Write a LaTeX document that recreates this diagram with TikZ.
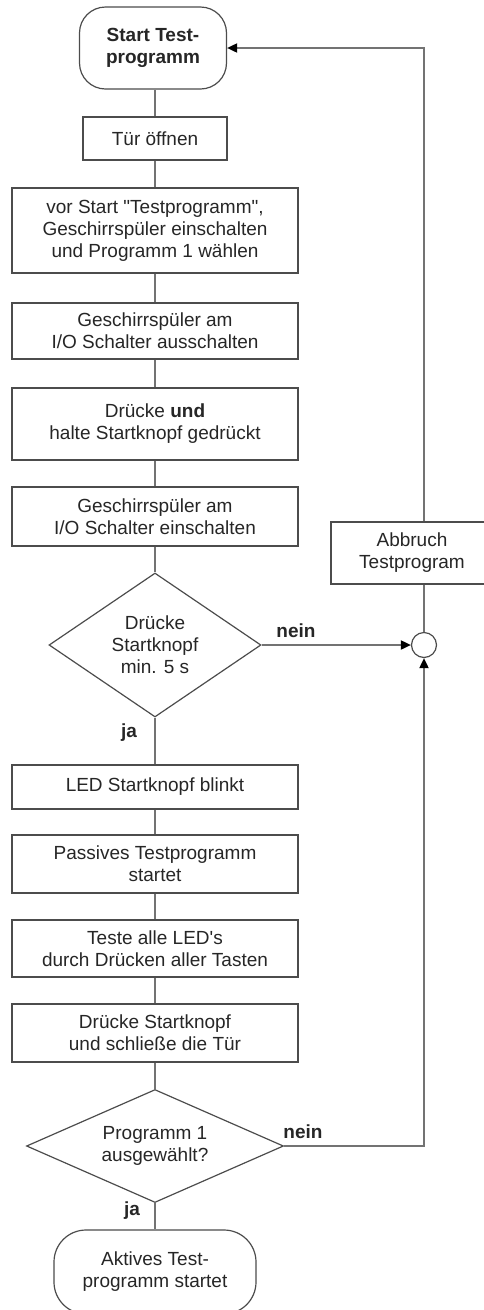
\documentclass[tikz,border=0pt]{standalone}
\usepackage{fontspec}
\setmainfont{Liberation Sans}[Ligatures=TeXOff]
\usetikzlibrary{shapes.geometric,arrows.meta}

\begin{document}
\begin{tikzpicture}[x=1pt,y=-1pt]
	\tikzstyle{every node}+=[inner sep=0pt, align=center, text=black!85, font=\fontsize{19}{22}\selectfont]
	\tikzstyle{boldtext}=[font=\fontsize{19}{22}\selectfont\bfseries]
	\tikzstyle{stepbox}=[draw=black!70, line width=1.2pt, minimum width=286pt]
	\tikzstyle{termbox}=[draw=black!70, line width=1.2pt, rounded corners=26pt]
	\tikzstyle{decbox}=[draw=black!70, line width=1.2pt, diamond]
	\tikzstyle{link}=[draw=black!55, line width=1.8pt]
	\tikzstyle{tip}=[-{Triangle[length=10pt,width=9pt,black]}]
	\useasboundingbox (0,0) rectangle (483,1310);
	\node [termbox, boldtext, minimum width=147pt, minimum height=82pt] (start) at (153,48) {Start Test-\\programm};
	\node [stepbox, minimum width=144pt, minimum height=43pt] (tuer) at (155,138.5) {Tür öffnen};
	\node [stepbox, minimum height=85pt] (vorstart) at (155,230.5) {vor Start "Testprogramm",\\Geschirrspüler einschalten\\und Programm 1 wählen};
	\node [stepbox, minimum height=56pt] (aus) at (155,331) {Geschirrspüler am\\I/O Schalter ausschalten};
	\node [stepbox, minimum height=72pt] (halten) at (155,424) {Drücke \textbf{und}\\halte Startknopf gedrückt};
	\node [stepbox, minimum height=59pt] (ein) at (155,516.5) {Geschirrspüler am\\I/O Schalter einschalten};
	\node [decbox, aspect=1.5, minimum width=212pt, minimum height=144pt] (fuenfs) at (155,645) {Drücke\\Startknopf\\min. 5 s};
	\node [stepbox, minimum height=44pt] (led) at (155,787) {LED Startknopf blinkt};
	\node [stepbox, minimum height=58pt] (passiv) at (155,864) {Passives Testprogramm\\startet};
	\node [stepbox, minimum height=57pt] (tasten) at (155,948.5) {Teste alle LED's\\durch Drücken aller Tasten};
	\node [stepbox, minimum height=58pt] (tuerzu) at (155,1033) {Drücke Startknopf\\und schließe die Tür};
	\node [decbox, aspect=2.27, minimum width=257pt, minimum height=113pt] (prog) at (155,1146) {Programm 1\\ausgewählt?};
	\node [termbox, rounded corners=32pt, minimum width=202pt, minimum height=84pt] (aktiv) at (155,1272) {Aktives Test-\\programm startet};
	\node [stepbox, minimum width=162pt, minimum height=62pt] (abbruch) at (412,553) {Abbruch\\Testprogram};
	\node [draw=black!70, line width=1.2pt, circle, minimum size=25pt] (knoten) at (424,645) {};
	\node [boldtext] (nein1) at (296,631) {nein};
	\node [boldtext] (ja1) at (129,733) {ja};
	\node [boldtext] (nein2) at (303,1132) {nein};
	\node [boldtext] (ja2) at (132,1211) {ja};
	\draw [link] (tuer.north |- start.south) -- (tuer);
	\draw [link] (tuer) -- (vorstart);
	\draw [link] (vorstart) -- (aus);
	\draw [link] (aus) -- (halten);
	\draw [link] (halten) -- (ein);
	\draw [link] (ein) -- (fuenfs);
	\draw [link] (fuenfs) -- (led);
	\draw [link] (led) -- (passiv);
	\draw [link] (passiv) -- (tasten);
	\draw [link] (tasten) -- (tuerzu);
	\draw [link] (tuerzu) -- (prog);
	\draw [link] (prog) -- (aktiv);
	\draw [link, tip] (fuenfs.east) -- (knoten.west);
	\draw [link, tip] (prog.east) -| (knoten.south);
	\draw [link] (knoten.north) -- (knoten |- abbruch.south);
	\draw [link, tip] (knoten |- abbruch.north) |- (start.east);
\end{tikzpicture}
\end{document}
